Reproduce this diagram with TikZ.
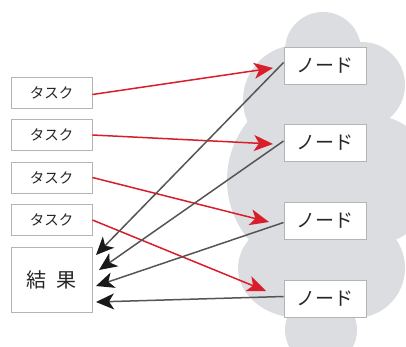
\documentclass[tikz,border=0pt]{standalone}
\usepackage{fontspec}
\newfontfamily\cjk{Noto Sans CJK JP}
\usetikzlibrary{arrows.meta}
\definecolor{cloudgray}{HTML}{DCDDE0}
\definecolor{boxline}{HTML}{B4B4B4}
\definecolor{arrred}{HTML}{D81E2A}
\definecolor{linegray}{HTML}{555555}
\tikzset{
  taskbox/.style={draw=boxline, line width=0.9pt, fill=white, minimum width=81pt, minimum height=31pt, inner sep=0pt, font=\cjk\fontsize{14.5}{14.5}\selectfont, text=black!85},
  nodebox/.style={draw=boxline, line width=0.9pt, fill=white, minimum width=82pt, minimum height=37pt, inner sep=0pt, font=\cjk\fontsize{19}{19}\selectfont, text=black!85},
  resbox/.style={draw=boxline, line width=0.9pt, fill=white, minimum width=81pt, minimum height=65pt, inner sep=0pt, font=\cjk\fontsize{20}{20}\selectfont, text=black!85},
  redarrow/.style={draw=arrred, line width=1.5pt, -{Stealth[length=19pt,width=16pt,inset=5pt,color=arrred,fill=arrred]}},
  grayarrow/.style={draw=linegray, line width=1.5pt, -{Stealth[length=18pt,width=16pt,inset=5pt,color=black!90,fill=black!90]}},
  lobe/.style={fill=cloudgray}
}
\begin{document}
\begin{tikzpicture}[x=1pt,y=-1pt]
\useasboundingbox (0,0) rectangle (406,347);
% cloud
\begin{scope}
\clip (0,0) rectangle (406,347);
\fill[lobe] (323,50) circle (38);
\fill[lobe] (362,85) circle (43);
\fill[lobe] (298,100) circle (55);
\fill[lobe] (320,180) circle (93);
\fill[lobe] (370,180) circle (65);
\fill[lobe] (300,268) ellipse (62 and 50);
\fill[lobe] (355,268) circle (50);
\fill[lobe] (321,330) circle (36);
\fill[lobe] (280,70) rectangle (385,300);
\end{scope}
% tasks
\node[taskbox] (t1) at (51.5,92.5) {タスク};
\node[taskbox] (t2) at (51.5,135) {タスク};
\node[taskbox] (t3) at (51.5,177.5) {タスク};
\node[taskbox] (t4) at (51.5,220) {タスク};
\node[resbox] (res) at (51.5,279.5) {結\hspace{0.5em}果};
% nodes
\node[nodebox] (n1) at (325,65.5) {ノード};
\node[nodebox] (n2) at (325,143) {ノード};
\node[nodebox] (n3) at (325,220.5) {ノード};
\node[nodebox] (n4) at (325,298.5) {ノード};
% free ends
\coordinate (a1) at (273,68);
\coordinate (a2) at (273,144);
\coordinate (a3) at (269,222);
\coordinate (a4) at (266,291);
\coordinate (r1) at (96,255);
\coordinate (r2) at (99,270);
\coordinate (r3) at (96,286);
\coordinate (r4) at (96,302);
% red arrows
\draw[redarrow] ([yshift=-2pt]t1.east) -- (a1);
\draw[redarrow] (t2.east) -- (a2);
\draw[redarrow] (t3.east) -- (a3);
\draw[redarrow] (t4.east) -- (a4);
% gray arrows
\draw[grayarrow] ([yshift=3pt]n1.west) -- (r1);
\draw[grayarrow] ([yshift=2pt]n2.west) -- (r2);
\draw[grayarrow] ([yshift=-2pt]n3.west) -- (r3);
\draw[grayarrow] ([yshift=2pt]n4.west) -- (r4);
\end{tikzpicture}
\end{document}
